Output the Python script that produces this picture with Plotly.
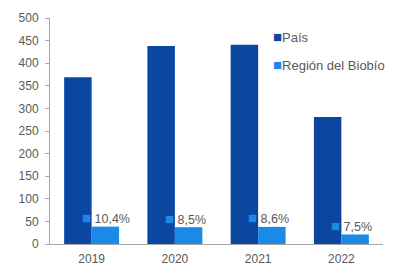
import plotly.graph_objects as go

years = ["2019", "2020", "2021", "2022"]
pais = [369, 438, 441, 281]
biobio = [38.4, 37.2, 37.9, 21.1]
pct_labels = ["10,4%", "8,5%", "8,6%", "7,5%"]
series_names = ["País", "Región del Biobío"]

dark = "#0B47A0"
light = "#1A8AE6"
grey = "#595959"
FONT = "Liberation Sans, Arial"

fig = go.Figure()
fig.add_trace(go.Bar(x=years, y=pais, name=series_names[0], marker=dict(color=dark, line=dict(width=0)),
                     showlegend=False))
fig.add_trace(go.Bar(x=years, y=biobio, name=series_names[1], marker=dict(color=light, line=dict(width=0)),
                     showlegend=False))

for i, (v, lab) in enumerate(zip(biobio, pct_labels)):
    fig.add_annotation(x=i, y=v + 20, xref="x", yref="y",
                       text=f"<span style='color:{light};font-size:15px'>■</span> {lab}",
                       showarrow=False, xanchor="left", yanchor="middle", xshift=-12,
                       font=dict(family=FONT, size=12.5, color=grey))

# legend drawn as annotations
for name, col, ly in zip(series_names, [dark, light], [0.92, 0.796]):
    fig.add_annotation(x=0.665, y=ly, xref="paper", yref="paper",
                       text=f"<span style='color:{col};font-size:15px'>■</span>{name}",
                       showarrow=False, xanchor="left", yanchor="middle",
                       font=dict(family=FONT, size=13, color=grey))

fig.update_layout(
    width=401, height=265,
    margin=dict(l=50, r=18, t=18, b=21, autoexpand=False),
    plot_bgcolor="white", paper_bgcolor="white",
    barmode="group", bargap=0.34, bargroupgap=0,
    font=dict(family=FONT, size=12, color=grey),
    showlegend=False,
)
fig.update_xaxes(type="category", range=[-0.5, len(years) - 0.5], showline=True, linecolor="#A6A6A6",
                 linewidth=1, ticks="", showgrid=False, automargin=False, ticklabelstandoff=4,
                 tickfont=dict(size=12, color=grey))
fig.update_yaxes(range=[0, 500], dtick=50, showline=True, linecolor="#A6A6A6", linewidth=1,
                 ticks="outside", ticklen=4, tickcolor="#A6A6A6", showgrid=False, zeroline=False,
                 automargin=False, ticklabelstandoff=4, tickfont=dict(size=12, color=grey))

fig.write_html("out.html", config={"displayModeBar": False},
               post_script="document.body.style.margin='0';")
